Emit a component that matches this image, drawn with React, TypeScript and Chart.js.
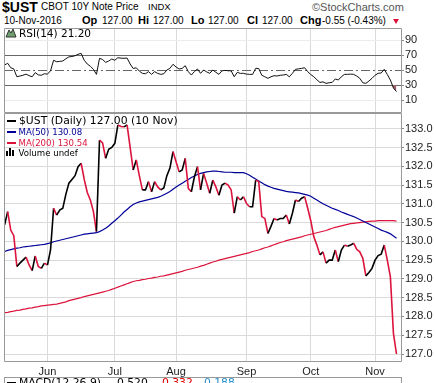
import React, { useEffect, useRef } from "react";
import { Chart, registerables } from "chart.js";
Chart.register(...registerables);

// ---------- data ----------
const monthLabels = ["Jun", "Jul", "Aug", "Sep", "Oct", "Nov"];
const monthStarts = [14, 36, 56, 79, 100, 121];
const priceTicks = [127.0, 127.5, 128.0, 128.5, 129.0, 129.5, 130.0, 130.5, 131.0, 131.5, 132.0, 132.5, 133.0];
const rsiTicks = [10, 30, 50, 70, 90];

const price = [
  130.44, 130.79, 130.30, 130.15, 129.33, 129.42, 129.50, 129.58, 129.37, 129.22,
  129.61, 129.33, 129.28, 129.42, 129.37, 129.77, 130.88, 130.70, 130.83, 130.88,
  131.25, 131.55, 131.65, 131.75, 131.99, 132.08, 131.65, 131.30, 131.10, 130.80,
  130.26, 132.70, 132.62, 132.21, 132.45, 132.50, 132.61, 133.10, 133.06, 133.05,
  133.10, 132.50, 131.90, 132.17, 131.75, 131.37, 131.37, 131.59, 131.32, 131.59,
  131.45, 131.37, 131.42, 131.75, 131.95, 132.39, 132.12, 131.85, 131.90, 132.21,
  131.41, 131.32, 131.72, 131.99, 131.37, 131.81, 131.55, 131.28, 131.63, 131.45,
  131.23, 131.50, 131.55, 131.50, 131.37, 130.75, 131.19, 131.10, 131.19, 131.01,
  130.92, 130.92, 131.63, 131.59, 130.66, 130.61, 130.21, 130.40, 130.61, 130.57,
  130.61, 130.61, 130.70, 130.46, 130.75, 131.10, 131.06, 131.15, 131.19, 130.88,
  130.55, 130.12, 129.90, 129.64, 129.72, 129.42, 129.50, 129.50, 129.77, 129.46,
  129.77, 129.90, 129.87, 129.90, 129.95, 129.79, 129.72, 129.55, 129.08, 129.17,
  129.28, 129.50, 129.62, 129.66, 129.90, 129.50, 129.06, 127.55, 127.00,
];

const ma50 = [
  129.73, 129.76, 129.78, 129.80, 129.82, 129.83, 129.85, 129.86, 129.87, 129.88,
  129.89, 129.90, 129.91, 129.92, 129.94, 129.96, 129.99, 130.01, 130.03, 130.05,
  130.07, 130.09, 130.11, 130.13, 130.15, 130.17, 130.19, 130.20, 130.21, 130.22,
  130.23, 130.26, 130.30, 130.35, 130.41, 130.48, 130.55, 130.62, 130.70, 130.78,
  130.85, 130.92, 130.98, 131.02, 131.05, 131.07, 131.09, 131.11, 131.13, 131.15,
  131.17, 131.20, 131.24, 131.28, 131.33, 131.39, 131.45, 131.50, 131.55, 131.60,
  131.65, 131.70, 131.74, 131.78, 131.81, 131.83, 131.85, 131.86, 131.87, 131.87,
  131.86, 131.85, 131.84, 131.84, 131.84, 131.83, 131.83, 131.83, 131.83, 131.80,
  131.76, 131.71, 131.66, 131.61, 131.56, 131.51, 131.47, 131.44, 131.41, 131.39,
  131.37, 131.35, 131.33, 131.32, 131.31, 131.30, 131.29, 131.27, 131.25, 131.23,
  131.20, 131.15, 131.10, 131.05, 131.00, 130.96, 130.92, 130.88, 130.85, 130.82,
  130.78, 130.75, 130.72, 130.69, 130.66, 130.62, 130.58, 130.54, 130.50, 130.46,
  130.42, 130.38, 130.34, 130.30, 130.27, 130.24, 130.20, 130.14, 130.08,
];

const ma200 = [
  128.10, 128.11, 128.13, 128.14, 128.16, 128.17, 128.19, 128.20, 128.22, 128.23,
  128.25, 128.26, 128.28, 128.29, 128.30, 128.31, 128.32, 128.33, 128.35, 128.37,
  128.39, 128.42, 128.44, 128.46, 128.48, 128.50, 128.53, 128.55, 128.57, 128.59,
  128.61, 128.63, 128.65, 128.67, 128.69, 128.72, 128.75, 128.78, 128.81, 128.84,
  128.87, 128.90, 128.93, 128.95, 128.96, 128.98, 128.99, 129.01, 129.02, 129.04,
  129.05, 129.07, 129.08, 129.10, 129.12, 129.14, 129.16, 129.18, 129.20, 129.23,
  129.25, 129.27, 129.29, 129.31, 129.34, 129.36, 129.39, 129.42, 129.45, 129.47,
  129.50, 129.52, 129.54, 129.56, 129.58, 129.60, 129.62, 129.64, 129.66, 129.68,
  129.70, 129.73, 129.75, 129.77, 129.80, 129.83, 129.85, 129.88, 129.91, 129.94,
  129.97, 129.99, 130.02, 130.04, 130.06, 130.08, 130.10, 130.12, 130.15, 130.17,
  130.19, 130.21, 130.23, 130.25, 130.27, 130.29, 130.32, 130.35, 130.37, 130.39,
  130.41, 130.43, 130.45, 130.47, 130.48, 130.49, 130.50, 130.51, 130.52, 130.53,
  130.54, 130.54, 130.55, 130.55, 130.55, 130.55, 130.55, 130.55, 130.54,
];

const rsi = [
  56.7, 59, 53, 51.5, 41, 42, 43, 44.5, 42.5, 41,
  46.5, 43.5, 43, 45, 44.5, 49, 63, 61, 61.5, 62,
  65, 67.5, 68, 69, 71, 72.2, 63, 58, 55, 51,
  44.2, 65.6, 64, 60.2, 62, 64.7, 63, 66.4, 65.8, 65.6,
  66, 58, 52, 53, 48.5, 45.6, 45, 47.8, 44.2, 47.8,
  45.5, 44.2, 45, 50, 52.2, 57.6, 54, 51.3, 52.2, 55.8,
  47.8, 43.3, 48, 51.3, 45.6, 50, 47.5, 45.6, 50, 47,
  44.2, 48.9, 49.5, 49, 48.9, 41, 46.9, 45.5, 45.6, 44.5,
  44.2, 44.2, 52.2, 52, 43, 41, 38.9, 41, 42.4, 42,
  43, 43.3, 44.2, 41, 45.6, 50.9, 51.5, 52.2, 53, 47.8,
  44, 41, 37, 33.5, 34.2, 32.2, 33, 33.5, 38, 36.7,
  41, 44.2, 44.2, 44.5, 44.2, 42, 39, 33, 32.2, 35.3,
  38.9, 43, 45.6, 46, 50.9, 44, 36.7, 26, 21.2,
];

// ---------- style ----------
const RED = "#dc143c";
const NAVY = "#000099";
const SANS = "'Liberation Sans', Arial, sans-serif";
const DV = "'DejaVu Sans', Verdana, sans-serif";
const GRID = "#dadada";
const BORDER = "#999";
const X_MIN = -0.2;
const X_MAX = 129.8;

const xy = (arr: number[]) => arr.map((y, i) => ({ x: i, y }));

function xScale(showLabels: boolean): any {
  return {
    type: "linear",
    min: X_MIN,
    max: X_MAX,
    afterBuildTicks: (s: any) => {
      s.ticks = monthStarts.map((v) => ({ value: v }));
    },
    afterFit: (s: any) => {
      s.height = showLabels ? 15 : 0;
      s.paddingLeft = 0;
      s.paddingRight = 0;
    },
    grid: { color: GRID, drawTicks: false, lineWidth: 1 },
    border: { display: false },
    ticks: {
      display: showLabels,
      padding: 3,
      autoSkip: false,
      maxRotation: 0,
      color: "#222",
      font: { family: SANS, size: 11 },
      callback: (v: any) => {
        const k = monthStarts.indexOf(Number(v));
        return k >= 0 ? monthLabels[k] : "";
      },
    },
  };
}

function yScale(min: number, max: number, ticks: number[], gridColor: any, fmt: (v: number) => string): any {
  return {
    position: "right",
    min,
    max,
    afterBuildTicks: (s: any) => {
      s.ticks = ticks.map((v) => ({ value: v }));
    },
    afterFit: (s: any) => {
      s.width = 34;
      s.paddingTop = 0;
      s.paddingBottom = 0;
    },
    grid: { color: gridColor, tickColor: "#888", tickLength: 2, drawTicks: true, lineWidth: 1 },
    border: { display: false },
    ticks: {
      padding: 1,
      color: "#222",
      font: { family: SANS, size: 11 },
      callback: (v: any) => fmt(Number(v)),
    },
  };
}

const frame = {
  id: "frame",
  afterDraw(chart: any) {
    const { ctx, chartArea: a } = chart;
    ctx.save();
    ctx.strokeStyle = BORDER;
    ctx.lineWidth = 1;
    ctx.beginPath();
    ctx.moveTo(a.left + 0.5, a.top + 0.5);
    ctx.lineTo(a.right - 0.5, a.top + 0.5);
    ctx.lineTo(a.right - 0.5, a.bottom - 0.5);
    ctx.lineTo(a.left + 0.5, a.bottom - 0.5);
    ctx.closePath();
    ctx.stroke();
    ctx.restore();
  },
};

const midLine = {
  id: "midLine",
  beforeDatasetsDraw(chart: any) {
    const { ctx, chartArea: a, scales } = chart;
    const yy = Math.round(scales.y.getPixelForValue(50)) + 0.5;
    ctx.save();
    ctx.strokeStyle = "#666";
    ctx.lineWidth = 1;
    ctx.setLineDash([9, 3, 2, 3]);
    ctx.beginPath();
    ctx.moveTo(a.left, yy);
    ctx.lineTo(a.right, yy);
    ctx.stroke();
    ctx.restore();
  },
};

const T = ({ x, b, size, family = SANS, bold = false, color = "#000", children }: any) => (
  <div
    style={{
      position: "absolute",
      left: x,
      top: b - 0.846 * size,
      fontSize: size,
      lineHeight: `${size}px`,
      fontFamily: family,
      fontWeight: bold ? 700 : 400,
      color,
      whiteSpace: "nowrap",
    }}
  >
    {children}
  </div>
);

const Dash = ({ y, color }: any) => (
  <div style={{ position: "absolute", left: 7, top: y, width: 9, height: 2, background: color }} />
);

export default function App() {
  const rsiRef = useRef<HTMLCanvasElement>(null);
  const mainRef = useRef<HTMLCanvasElement>(null);

  useEffect(() => {
    const rsiChart = new Chart(rsiRef.current as HTMLCanvasElement, {
      type: "line",
      data: {
        datasets: [
          {
            data: xy(rsi),
            borderColor: "#111",
            borderWidth: 1,
            pointRadius: 0,
            tension: 0,
            fill: { target: { value: 30 }, above: "rgba(0,0,0,0)", below: "#a0606a" },
          } as any,
        ],
      },
      options: {
        responsive: false,
        maintainAspectRatio: false,
        animation: false,
        devicePixelRatio: 1,
        layout: { padding: { left: 4, right: 0, top: 2, bottom: 3 } },
        plugins: { legend: { display: false }, tooltip: { enabled: false } },
        scales: {
          x: xScale(false),
          y: yScale(
            -7.3,
            106,
            rsiTicks,
            (c: any) => (c.tick && (c.tick.value === 70 || c.tick.value === 30) ? "#666" : c.tick && c.tick.value === 50 ? "rgba(0,0,0,0)" : "#ececec"),
            (v) => String(v)
          ),
        },
      } as any,
      plugins: [midLine, frame],
    });

    const mainChart = new Chart(mainRef.current as HTMLCanvasElement, {
      type: "line",
      data: {
        datasets: [
          {
            data: xy(price),
            borderWidth: 1.6,
            borderColor: "#000",
            pointRadius: 0,
            tension: 0,
            order: 0,
            segment: {
              borderColor: (c: any) => (c.p1.parsed.y < c.p0.parsed.y ? RED : "#000"),
            },
          } as any,
          { data: xy(ma50), borderColor: NAVY, borderWidth: 1.2, pointRadius: 0, tension: 0, order: 1 },
          { data: xy(ma200), borderColor: RED, borderWidth: 1.2, pointRadius: 0, tension: 0, order: 2 },
        ],
      },
      options: {
        responsive: false,
        maintainAspectRatio: false,
        animation: false,
        devicePixelRatio: 1,
        layout: { padding: { left: 4, right: 0, top: 3, bottom: 0 } },
        plugins: { legend: { display: false }, tooltip: { enabled: false } },
        scales: {
          x: xScale(true),
          y: yScale(126.787, 133.418, priceTicks, GRID, (v) => v.toFixed(1)),
        },
      } as any,
      plugins: [frame],
    });

    return () => {
      rsiChart.destroy();
      mainChart.destroy();
    };
  }, []);

  return (
    <div style={{ position: "fixed", left: 0, top: 0, width: 436, height: 383, background: "#fff", overflow: "hidden" }}>
      {/* header */}
      <T x={2} b={11.7} size={14} bold>$UST</T>
      <T x={41} b={10.7} size={10}>CBOT 10Y Note Price</T>
      <T x={148} b={10.5} size={9.5}>INDX</T>
      <T x={312} b={11} size={11} color="#555">©StockCharts.com</T>
      <T x={4} b={24} size={10}>10-Nov-2016</T>
      <T x={82} b={24} size={11} bold>Op</T>
      <T x={102} b={24} size={10}>127.00</T>
      <T x={138} b={24} size={11} bold>Hi</T>
      <T x={153} b={24} size={10}>127.00</T>
      <T x={191} b={24} size={11} bold>Lo</T>
      <T x={208} b={24} size={10}>127.00</T>
      <T x={247} b={24} size={11} bold>Cl</T>
      <T x={262} b={24} size={10}>127.00</T>
      <T x={300} b={24} size={11} bold>Chg</T>
      <T x={322} b={24} size={10}>-0.55 (-0.43%)</T>
      <div
        style={{
          position: "absolute",
          left: 393,
          top: 19,
          width: 0,
          height: 0,
          borderLeft: "3.5px solid transparent",
          borderRight: "3.5px solid transparent",
          borderTop: "5px solid " + RED,
        }}
      />

      <canvas ref={rsiRef} width={436} height={90} style={{ position: "absolute", left: 0, top: 26, width: 436, height: 90 }} />
      <canvas ref={mainRef} width={436} height={267} style={{ position: "absolute", left: 0, top: 110, width: 436, height: 267 }} />

      {/* RSI label */}
      <svg style={{ position: "absolute", left: 5, top: 28 }} width={12} height={10}>
        <polygon points="1,9 4,2 6,5 8,1 11,9" fill="#6f9f6f" stroke="#333" strokeWidth={1} />
      </svg>
      <T x={19} b={37} size={10.5} family={DV}>RSI(14) 21.20</T>

      {/* main legend */}
      <Dash y={120} color="#000" />
      <T x={19} b={125} size={10.8} family={DV}>$UST (Daily) 127.00 (10 Nov)</T>
      <Dash y={131} color={NAVY} />
      <T x={18.5} b={135.5} size={8.6} family={DV} color={NAVY}>MA(50) 130.08</T>
      <Dash y={142} color={RED} />
      <T x={18.5} b={146} size={8.6} family={DV} color={RED}>MA(200) 130.54</T>
      <div style={{ position: "absolute", left: 6, top: 151, width: 2, height: 5, background: "#000" }} />
      <div style={{ position: "absolute", left: 9, top: 148, width: 2, height: 8, background: "#000" }} />
      <div style={{ position: "absolute", left: 12, top: 150, width: 2, height: 6, background: "#000" }} />
      <T x={18.5} b={156.5} size={8.6} family={DV}>Volume undef</T>

      {/* MACD panel (cut off) */}
      <div
        style={{
          position: "absolute",
          left: 4,
          top: 377,
          width: 396,
          height: 20,
          borderTop: "1px solid " + BORDER,
          borderLeft: "1px solid " + BORDER,
          borderRight: "1px solid " + BORDER,
        }}
      />
      <Dash y={382} color="#000" />
      <T x={19} b={387.5} size={10.8} family={DV}>MACD(12,26,9)</T>
      <T x={113} b={387.5} size={10.8} family={DV}>-0.520,</T>
      <T x={158} b={387.5} size={10.8} family={DV} color="#e00000">-0.332,</T>
      <T x={200} b={387.5} size={10.8} family={DV} color="#2a8fc8">-0.188</T>
    </div>
  );
}
